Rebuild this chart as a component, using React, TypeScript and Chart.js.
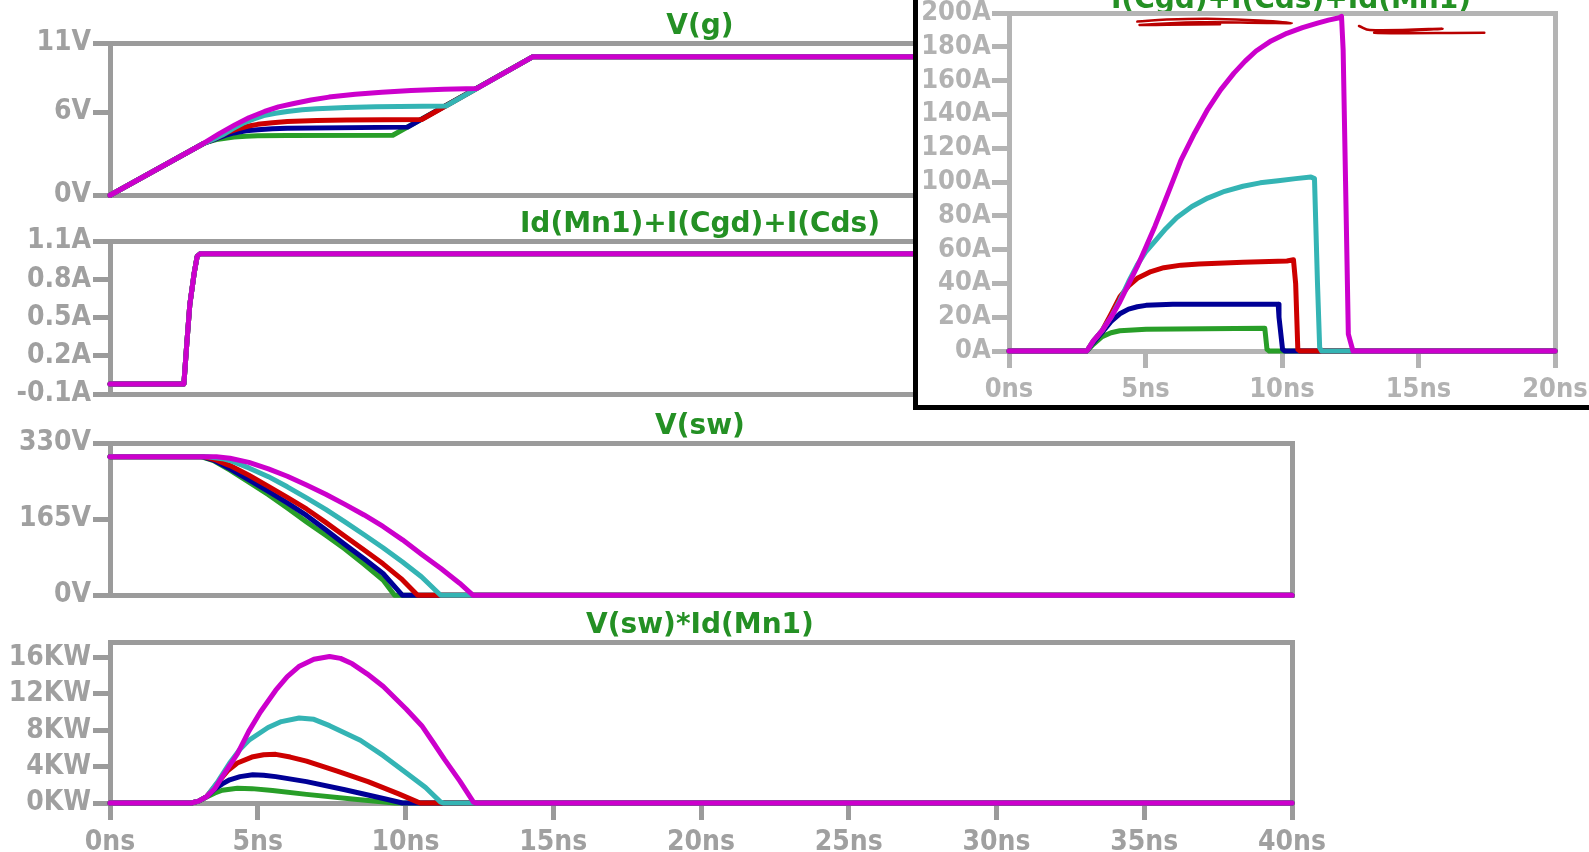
import React, { useEffect, useRef } from "react";
import Chart from "chart.js/auto";

// ---------- colours ----------
const C_GREEN = "rgb(40,158,40)";
const C_BLUE = "rgb(0,0,150)";
const C_RED = "rgb(205,0,0)";
const C_CYAN = "rgb(52,180,180)";
const C_MAGENTA = "rgb(204,0,204)";
const C_INK = "rgb(185,0,0)";
const TITLE_GREEN = "rgb(36,144,36)";
const TITLE_FONT = "'DejaVu Sans', sans-serif";
const LABEL_FONT = "'DejaVu Sans Condensed', 'DejaVu Sans', sans-serif";

// ---------- time axes ----------
const mainTimeMax = 40;
const insetTimeMax = 20;
const timeStep = 5;

// ---------- V(g) [ns, V] ----------
const vgTicks = [0, 6, 11];
const vgGreen = [[0, 0], [3.15, 3.72], [3.35, 3.88], [3.6, 4.02], [3.9, 4.12], [4.2, 4.2], [4.6, 4.26], [5.0, 4.29], [6.0, 4.31], [9.57, 4.33], [14.3, 10], [40, 10]];
const vgBlue = [[0, 0], [3.15, 3.72], [3.4, 3.92], [3.6, 4.08], [3.9, 4.32], [4.2, 4.5], [4.6, 4.65], [5.0, 4.73], [5.5, 4.8], [6.0, 4.84], [10.07, 4.92], [14.3, 10], [40, 10]];
const vgRed = [[0, 0], [3.15, 3.72], [3.4, 3.95], [3.7, 4.25], [4.0, 4.55], [4.3, 4.78], [4.65, 4.98], [5.0, 5.12], [5.5, 5.24], [6.0, 5.32], [7.0, 5.4], [8.0, 5.43], [10.55, 5.47], [14.3, 10], [40, 10]];
const vgCyan = [[0, 0], [3.15, 3.72], [3.5, 4.05], [3.8, 4.35], [4.15, 4.8], [4.5, 5.2], [4.85, 5.5], [5.2, 5.75], [5.6, 5.92], [6.0, 6.05], [6.5, 6.17], [7.0, 6.25], [8.0, 6.34], [9.0, 6.4], [11.37, 6.45], [14.3, 10], [40, 10]];
const vgMagenta = [[0, 0], [3.15, 3.72], [3.7, 4.45], [4.24, 5.1], [4.7, 5.6], [5.23, 6.05], [5.7, 6.38], [6.22, 6.63], [6.8, 6.88], [7.41, 7.09], [8.3, 7.3], [9.2, 7.44], [10.19, 7.56], [11.3, 7.66], [12.42, 7.72], [14.3, 10], [40, 10]];

// ---------- Id(Mn1)+I(Cgd)+I(Cds) [ns, A] ----------
const idTicks = [-0.1, 0.2, 0.5, 0.8, 1.1];
const idAll = [[0, -0.02], [2.5, -0.02], [2.6, 0.3], [2.7, 0.6], [2.85, 0.85], [2.95, 0.98], [3.05, 1.0], [40, 1.0]];

// ---------- V(sw) [ns, V] ----------
const vswTicks = [0, 165, 330];
const vswGreen = [[0, 300], [3.1, 300], [3.5, 292], [4.06, 271], [4.7, 245], [5.36, 218], [6.0, 189], [6.65, 159], [7.3, 130], [7.95, 100], [8.6, 67], [9.24, 33], [9.63, 0], [40, 0]];
const vswBlue = [[0, 300], [3.15, 300], [3.5, 293], [4.06, 274], [4.7, 250], [5.36, 225], [6.0, 200], [6.65, 173], [7.3, 142], [7.95, 110], [8.6, 79], [9.24, 47], [9.89, 0], [40, 0]];
const vswRed = [[0, 300], [3.2, 300], [3.6, 293], [4.06, 281], [4.7, 260], [5.36, 236], [6.0, 212], [6.65, 187], [7.3, 158], [7.95, 128], [8.6, 98], [9.24, 68], [9.85, 36], [10.41, 0], [40, 0]];
const vswCyan = [[0, 300], [3.3, 300], [3.8, 296], [4.06, 292], [4.7, 276], [5.36, 257], [6.0, 235], [6.65, 211], [7.3, 186], [7.95, 159], [8.6, 131], [9.24, 103], [9.9, 72], [10.54, 40], [11.19, 0], [40, 0]];
const vswMagenta = [[0, 300], [3.6, 300], [4.06, 297], [4.7, 288], [5.36, 274], [6.0, 258], [6.65, 239], [7.3, 219], [7.95, 197], [8.6, 174], [9.24, 149], [9.9, 120], [10.54, 89], [11.2, 58], [11.83, 26], [12.28, 0], [40, 0]];

// ---------- V(sw)*Id(Mn1) [ns, kW] ----------
const pwTicks = [0, 4, 8, 12, 16];
const pwMax = 17.7;
const pwGreen = [[0, 0], [2.75, 0], [3.0, 0.2], [3.27, 0.66], [3.55, 1.1], [3.8, 1.4], [4.31, 1.62], [4.8, 1.58], [5.5, 1.38], [6.65, 0.95], [8.2, 0.45], [9.0, 0.2], [9.64, 0], [40, 0]];
const pwBlue = [[0, 0], [2.75, 0], [3.0, 0.2], [3.27, 0.7], [3.53, 1.5], [3.8, 2.1], [4.05, 2.55], [4.4, 2.9], [4.83, 3.1], [5.2, 3.05], [5.61, 2.9], [6.65, 2.35], [7.95, 1.45], [9.25, 0.5], [9.9, 0], [40, 0]];
const pwRed = [[0, 0], [2.75, 0], [3.0, 0.2], [3.27, 0.7], [3.66, 2.3], [4.0, 3.6], [4.31, 4.4], [4.8, 5.05], [5.2, 5.3], [5.61, 5.35], [6.1, 5.05], [6.65, 4.6], [7.69, 3.5], [8.73, 2.35], [9.77, 1.0], [10.42, 0.1], [10.5, 0], [40, 0]];
const pwCyan = [[0, 0], [2.75, 0], [3.0, 0.2], [3.27, 0.7], [3.66, 2.4], [4.05, 4.4], [4.4, 5.9], [4.7, 6.9], [5.35, 8.3], [5.8, 8.95], [6.4, 9.35], [6.9, 9.2], [7.43, 8.5], [8.47, 6.9], [9.25, 5.2], [10.03, 3.3], [10.68, 1.7], [11.19, 0.1], [11.3, 0], [40, 0]];
const pwMagenta = [[0, 0], [2.75, 0], [3.0, 0.2], [3.27, 0.7], [3.55, 1.6], [3.8, 2.9], [4.31, 5.4], [4.7, 7.9], [5.09, 10.0], [5.61, 12.4], [6.0, 13.9], [6.39, 15.0], [6.9, 15.8], [7.43, 16.1], [7.8, 15.9], [8.2, 15.3], [8.7, 14.2], [9.25, 12.8], [10.03, 10.3], [10.55, 8.5], [10.95, 6.6], [11.32, 4.8], [11.84, 2.4], [12.3, 0.1], [12.4, 0], [40, 0]];

// ---------- inset: I(Cgd)+I(Cds)+Id(Mn1) [ns, A] ----------
const insetTicks = [0, 20, 40, 60, 80, 100, 120, 140, 160, 180, 200];
const inGreen = [[0, 0], [2.85, 0], [3.09, 4], [3.41, 8.5], [3.74, 10.8], [4.06, 12], [5.02, 12.9], [9.37, 13.5], [9.45, 1], [9.53, 0], [20, 0]];
const inBlue = [[0, 0], [2.85, 0], [3.09, 5], [3.41, 11], [3.74, 17.5], [4.06, 22], [4.38, 24.8], [4.7, 26.2], [5.02, 27], [6.0, 27.7], [9.86, 27.7], [9.89, 20], [10.02, 1], [10.1, 0], [20, 0]];
const inRed = [[0, 0], [2.85, 0], [3.09, 6], [3.41, 12], [3.74, 22], [4.06, 32], [4.38, 38.5], [4.7, 43], [5.2, 47], [5.67, 49.3], [6.3, 50.8], [6.96, 51.5], [8.57, 52.5], [10.18, 53.3], [10.42, 54], [10.5, 40], [10.58, 1], [10.65, 0], [20, 0]];
const inCyan = [[0, 0], [2.85, 0], [3.09, 6], [3.41, 12], [3.74, 20], [4.06, 30], [4.38, 41], [4.7, 51], [5.0, 58.5], [5.35, 65], [5.75, 72.5], [6.15, 79], [6.7, 85.5], [7.28, 90.5], [7.9, 94.5], [8.57, 97.5], [9.2, 99.5], [9.86, 100.8], [10.5, 102], [11.06, 103], [11.19, 102], [11.3, 40], [11.38, 2], [11.45, 0], [20, 0]];
const inMagenta = [[0, 0], [2.85, 0], [3.09, 6], [3.41, 12], [3.74, 20], [4.06, 29], [4.38, 39.6], [4.7, 50], [5.0, 61], [5.35, 74], [5.67, 87], [6.0, 100.5], [6.3, 113], [6.8, 129], [7.28, 143], [7.75, 154.5], [8.24, 164.4], [8.65, 171.5], [9.05, 177.5], [9.6, 183.5], [10.18, 188], [10.75, 191.3], [11.3, 194], [11.7, 195.8], [12.1, 197.2], [12.18, 198], [12.24, 178], [12.43, 10], [12.6, 0], [20, 0]];
// hand-drawn red marks on the inset
const scribbleA = [[4.7, 194.9], [5.78, 196.1], [7.61, 196.5], [9.44, 195.3], [10.36, 194.1], [9.44, 194.1], [7.0, 194.5], [4.8, 192.9], [5.78, 193.1], [7.73, 193.3]];
const scribbleB = [[12.82, 192.3], [13.22, 189.9], [15.88, 190.7], [13.39, 188.3], [17.41, 188.3]];

const toXY = (pts: number[][]) => pts.map(([x, y]) => ({ x, y }));

function lineSet(pts: number[][], color: string, width = 5, curved = false) {
  return {
    data: toXY(pts),
    borderColor: color,
    backgroundColor: color,
    borderWidth: width,
    pointRadius: 0,
    fill: false,
    clip: false as const,
    tension: curved ? 0.4 : 0,
    borderJoinStyle: "round" as const,
    borderCapStyle: "round" as const,
  };
}

type PaneOpts = {
  datasets: any[];
  title: string;
  yMin: number;
  yMax: number;
  yTicks: number[];
  yFmt: (v: number) => string;
  xMax: number;
  showX: boolean;
  xh: number;
  yw: number;
  rightw: number;
  lineGray: string;
  labelGray: string;
  labelSize: number;
  titlePad: { top: number; bottom: number };
  xLabelPad: number;
  yLabelPad: number;
};

function paneConfig(o: PaneOpts): any {
  const labelFont = { family: LABEL_FONT, size: o.labelSize, weight: "bold" as const, lineHeight: 1.2 };
  const frameAxis = (position: string, isX: boolean, size: number) => ({
    type: "linear",
    position,
    min: 0,
    max: 1,
    display: true,
    ticks: { display: false },
    grid: { display: false, drawTicks: false },
    border: { display: true, width: 5, color: o.lineGray },
    afterFit: (s: any) => {
      if (isX) s.height = size;
      else s.width = size;
    },
  });
  return {
    type: "line",
    data: { datasets: o.datasets },
    options: {
      animation: false,
      responsive: false,
      maintainAspectRatio: false,
      devicePixelRatio: 1,
      events: [],
      layout: { padding: { left: 0, right: 0, top: 0, bottom: 0 } },
      plugins: {
        legend: { display: false },
        tooltip: { enabled: false },
        title: {
          display: true,
          text: o.title,
          color: TITLE_GREEN,
          font: { family: TITLE_FONT, size: 28, weight: "bold", lineHeight: 1.1 },
          padding: o.titlePad,
        },
      },
      scales: {
        x: {
          type: "linear",
          position: "bottom",
          min: 0,
          max: o.xMax,
          ticks: {
            display: o.showX,
            stepSize: timeStep,
            autoSkip: false,
            maxRotation: 0,
            padding: o.xLabelPad,
            color: o.labelGray,
            font: labelFont,
            callback: (v: number) => `${v}ns`,
          },
          grid: {
            display: o.showX,
            drawOnChartArea: false,
            drawTicks: o.showX,
            tickLength: 17,
            tickWidth: 5,
            tickColor: o.lineGray,
            lineWidth: 5,
            color: o.lineGray,
          },
          border: { display: true, width: 5, color: o.lineGray },
          afterFit: (s: any) => {
            s.height = o.xh;
          },
        },
        y: {
          type: "linear",
          position: "left",
          min: o.yMin,
          max: o.yMax,
          afterBuildTicks: (s: any) => {
            s.ticks = o.yTicks.map((v) => ({ value: v }));
          },
          ticks: {
            autoSkip: false,
            padding: o.yLabelPad,
            color: o.labelGray,
            font: labelFont,
            callback: (v: number) => o.yFmt(v),
          },
          grid: {
            display: true,
            drawOnChartArea: false,
            drawTicks: true,
            tickLength: 17,
            tickWidth: 5,
            tickColor: o.lineGray,
            lineWidth: 5,
            color: o.lineGray,
          },
          border: { display: true, width: 5, color: o.lineGray },
          afterFit: (s: any) => {
            s.width = o.yw;
          },
        },
        xTop: frameAxis("top", true, 0),
        yRight: frameAxis("right", false, o.rightw),
      },
    },
  };
}

const MAIN_LINE = "rgb(155,155,155)";
const MAIN_LABEL = "rgb(160,160,160)";
const INSET_LINE = "rgb(180,180,180)";
const INSET_LABEL = "rgb(178,178,178)";

const mainBase = {
  xMax: mainTimeMax,
  yw: 110,
  rightw: 108,
  lineGray: MAIN_LINE,
  labelGray: MAIN_LABEL,
  labelSize: 28,
  titlePad: { top: 10.4, bottom: 0.8 },
  xLabelPad: 6.2,
  yLabelPad: 2,
};

export default function App() {
  const r1 = useRef<HTMLCanvasElement>(null);
  const r2 = useRef<HTMLCanvasElement>(null);
  const r3 = useRef<HTMLCanvasElement>(null);
  const r4 = useRef<HTMLCanvasElement>(null);
  const r5 = useRef<HTMLCanvasElement>(null);

  useEffect(() => {
    const charts: Chart[] = [];
    const five = (m: number[][], c: number[][], r: number[][], b: number[][], g: number[][]) => [
      lineSet(m, C_MAGENTA),
      lineSet(c, C_CYAN),
      lineSet(r, C_RED),
      lineSet(b, C_BLUE),
      lineSet(g, C_GREEN),
    ];
    charts.push(
      new Chart(
        r1.current!,
        paneConfig({
          ...mainBase,
          title: "V(g)",
          datasets: five(vgMagenta, vgCyan, vgRed, vgBlue, vgGreen),
          yMin: 0,
          yMax: 11,
          yTicks: vgTicks,
          yFmt: (v) => `${v}V`,
          showX: false,
          xh: 14,
        })
      )
    );
    charts.push(
      new Chart(
        r2.current!,
        paneConfig({
          ...mainBase,
          title: "Id(Mn1)+I(Cgd)+I(Cds)",
          datasets: five(idAll, idAll, idAll, idAll, idAll),
          yMin: -0.1,
          yMax: 1.1,
          yTicks: idTicks,
          yFmt: (v) => `${v.toFixed(1)}A`,
          showX: false,
          xh: 14,
        })
      )
    );
    charts.push(
      new Chart(
        r3.current!,
        paneConfig({
          ...mainBase,
          title: "V(sw)",
          datasets: five(vswMagenta, vswCyan, vswRed, vswBlue, vswGreen),
          yMin: 0,
          yMax: 330,
          yTicks: vswTicks,
          yFmt: (v) => `${v}V`,
          showX: false,
          xh: 14,
        })
      )
    );
    charts.push(
      new Chart(
        r4.current!,
        paneConfig({
          ...mainBase,
          title: "V(sw)*Id(Mn1)",
          datasets: five(pwMagenta, pwCyan, pwRed, pwBlue, pwGreen),
          yMin: 0,
          yMax: pwMax,
          yTicks: pwTicks,
          yFmt: (v) => `${v}KW`,
          showX: true,
          xh: 48,
        })
      )
    );
    charts.push(
      new Chart(
        r5.current!,
        paneConfig({
          title: "I(Cgd)+I(Cds)+Id(Mn1)",
          datasets: [
            lineSet(scribbleA, C_INK, 2.5, true),
            lineSet(scribbleB, C_INK, 2.5, true),
            ...five(inMagenta, inCyan, inRed, inBlue, inGreen),
          ],
          yMin: 0,
          yMax: 200,
          yTicks: insetTicks,
          yFmt: (v) => `${v}A`,
          xMax: insetTimeMax,
          showX: true,
          xh: 54,
          yw: 91,
          rightw: 109,
          lineGray: INSET_LINE,
          labelGray: INSET_LABEL,
          labelSize: 27,
          titlePad: { top: 5.5, bottom: -3.3 },
          xLabelPad: 5.5,
          yLabelPad: 1.3,
        })
      )
    );
    return () => charts.forEach((c) => c.destroy());
  }, []);

  const cv = (top: number, h: number): React.CSSProperties => ({
    position: "absolute",
    left: 0,
    top,
    width: 1400,
    height: h,
  });

  return (
    <div
      style={{
        position: "absolute",
        left: 0,
        top: 0,
        width: 1589,
        height: 852,
        overflow: "hidden",
        background: "#ffffff",
      }}
    >
      <canvas ref={r1} width={1400} height={213} style={cv(1, 213)} />
      <canvas ref={r2} width={1400} height={214} style={cv(199, 214)} />
      <canvas ref={r3} width={1400} height={213} style={cv(401, 213)} />
      <canvas ref={r4} width={1400} height={251} style={cv(600, 251)} />
      <div
        style={{
          position: "absolute",
          left: 913,
          top: 0,
          width: 676,
          height: 405,
          borderLeft: "5px solid #000",
          borderBottom: "5px solid #000",
          background: "#ffffff",
          overflow: "hidden",
        }}
      >
        <canvas
          ref={r5}
          width={746}
          height={425}
          style={{ position: "absolute", left: 0, top: -20, width: 746, height: 425 }}
        />
      </div>
    </div>
  );
}
